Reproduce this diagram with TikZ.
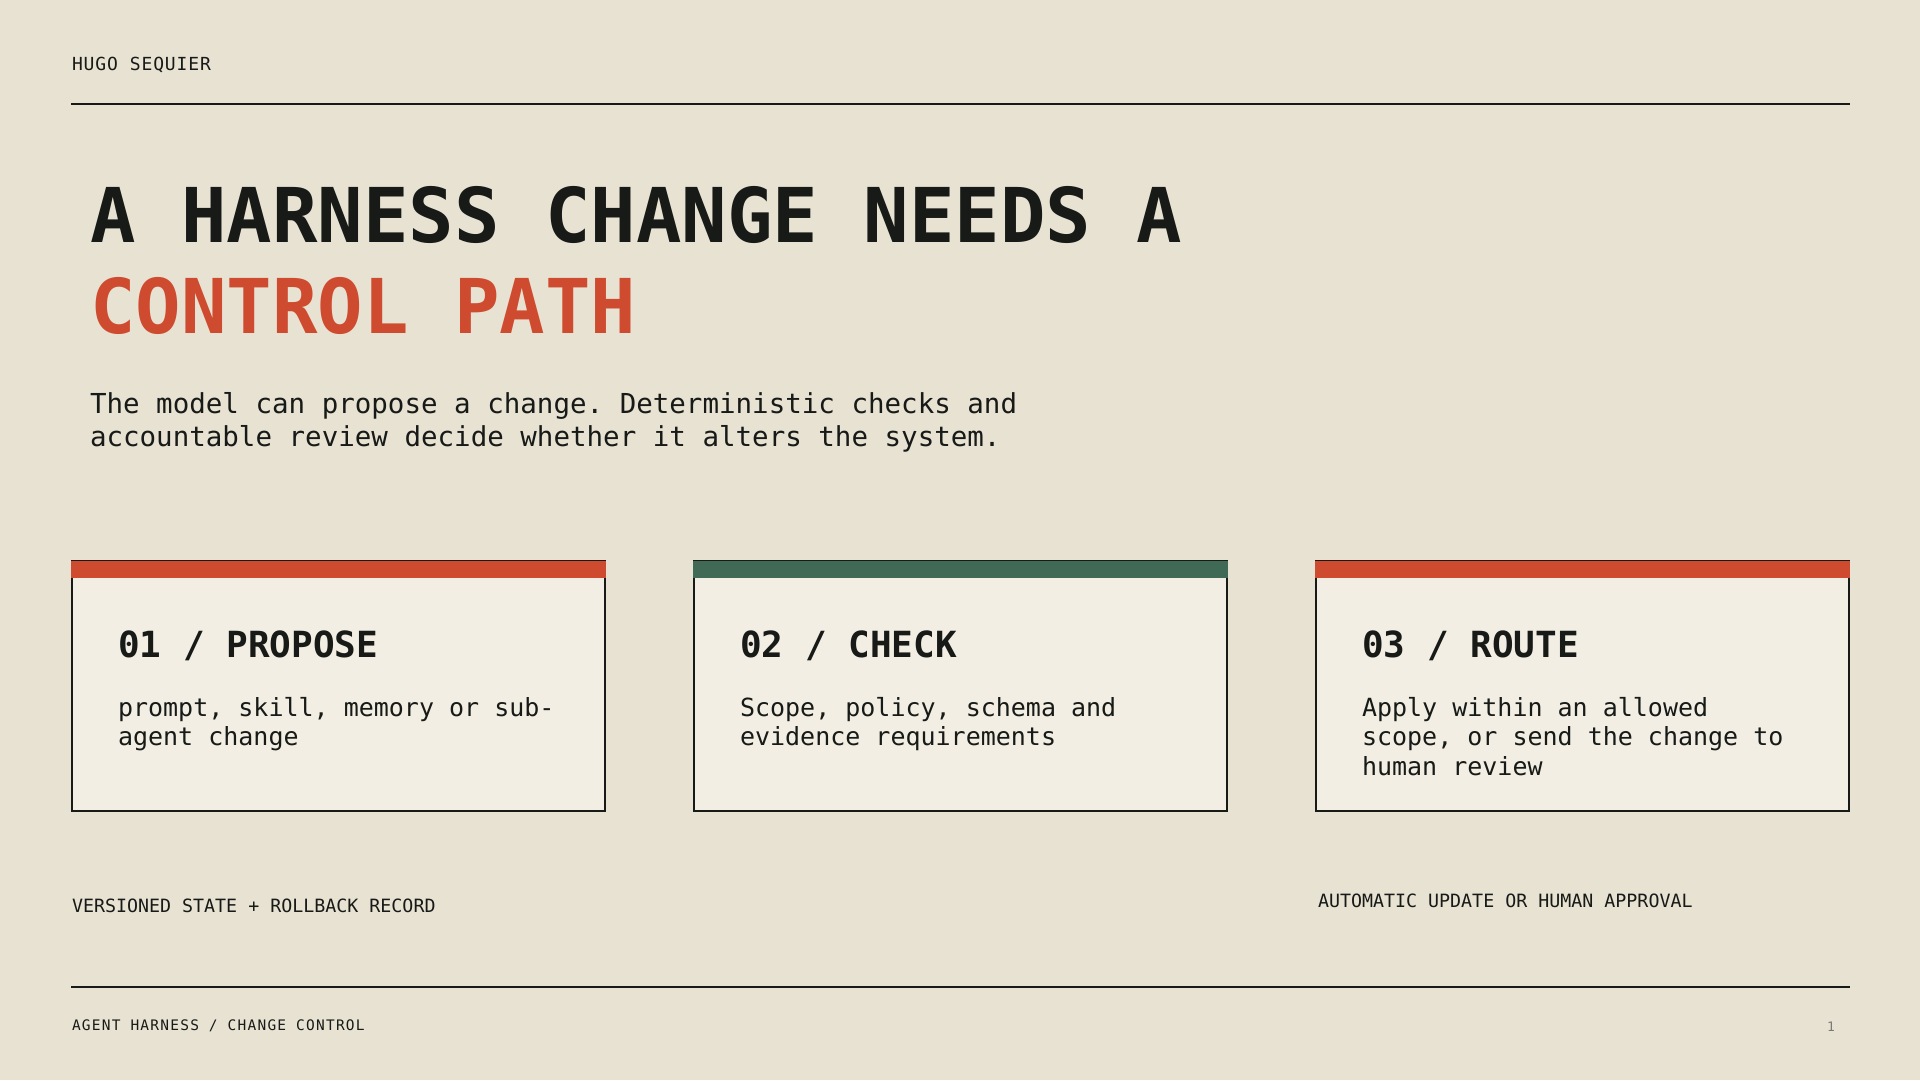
\documentclass[tikz,border=0pt]{standalone}
\usepackage{fontspec}
\newfontfamily\mono{DejaVu Sans Mono}
\newfontfamily\monohdr[LetterSpace=5]{DejaVu Sans Mono}
\newfontfamily\monofoot[LetterSpace=8.5]{DejaVu Sans Mono}
\definecolor{bg}{HTML}{E8E2D3}
\definecolor{cardbg}{HTML}{F2EEE3}
\definecolor{accred}{HTML}{CF4B2F}
\definecolor{accgreen}{HTML}{416A56}
\definecolor{ink}{HTML}{171A17}
\definecolor{pagegray}{HTML}{7A7A74}
\tikzset{
  txt/.style={inner sep=0pt, outer sep=0pt, anchor=base west, text=ink},
  card/.style={fill=cardbg, draw=ink, line width=2pt},
  cardhead/.style={txt, font=\mono\bfseries\fontsize{36}{40}\selectfont},
  cardbody/.style={txt, align=left, font=\mono\frenchspacing\fontsize{25}{29.5}\selectfont},
  rule/.style={draw=ink, line width=2pt},
}
\begin{document}
\begin{tikzpicture}[x=1pt,y=-1pt]
\fill[bg] (0,0) rectangle (1920,1080);
\useasboundingbox (0,0) rectangle (1920,1080);

% header
\node[txt, font=\monohdr\fontsize{18}{20}\selectfont] (author) at (72,70) {HUGO SEQUIER};
\coordinate (topL) at (71,104);
\coordinate (topR) at (1850,104);
\draw[rule] (topL) -- (topR);

% title
\node[txt, font=\mono\bfseries\fontsize{75.6}{80}\selectfont] (title1) at (90,242) {A HARNESS CHANGE NEEDS A};
\node[txt, text=accred, font=\mono\bfseries\fontsize{75.6}{80}\selectfont] (title2) at (90,333) {CONTROL PATH};

% subtitle (anchor = baseline of last line)
\node[txt, align=left, font=\mono\frenchspacing\fontsize{27.5}{33}\selectfont] (sub) at (90,446)
  {The model can propose a change. Deterministic checks and\\accountable review decide whether it alters the system.};

% cards
\foreach \cx/\col in {72/accred, 694/accgreen, 1316/accred}{
  \draw[card] (\cx,561) rectangle (\cx+533,811);
  \fill[\col] (\cx-1,561) rectangle (\cx+534,578);
}
\node[cardhead] (h1) at (118,657) {01 / PROPOSE};
\node[cardbody] (b1) at (118,745.5) {prompt, skill, memory or sub-\\agent change};
\node[cardhead] (h2) at (740,657) {02 / CHECK};
\node[cardbody] (b2) at (740,745.5) {Scope, policy, schema and\\evidence requirements};
\node[cardhead] (h3) at (1362,657) {03 / ROUTE};
\node[cardbody] (b3) at (1362,775) {Apply within an allowed\\scope, or send the change to\\human review};

% bottom labels
\node[txt, font=\mono\fontsize{18.3}{20}\selectfont] (lab1) at (72,912) {VERSIONED STATE + ROLLBACK RECORD};
\node[txt, font=\mono\fontsize{18.3}{20}\selectfont] (lab3) at (1318,907) {AUTOMATIC UPDATE OR HUMAN APPROVAL};

% footer
\coordinate (botL) at (71,987);
\coordinate (botR) at (1850,987);
\draw[rule] (botL) -- (botR);
\node[txt, font=\monofoot\fontsize{14.5}{16}\selectfont] (foot) at (72,1030) {AGENT HARNESS / CHANGE CONTROL};
\node[txt, text=pagegray, font=\mono\fontsize{13}{15}\selectfont] (page) at (1827,1031) {1};
\end{tikzpicture}
\end{document}
